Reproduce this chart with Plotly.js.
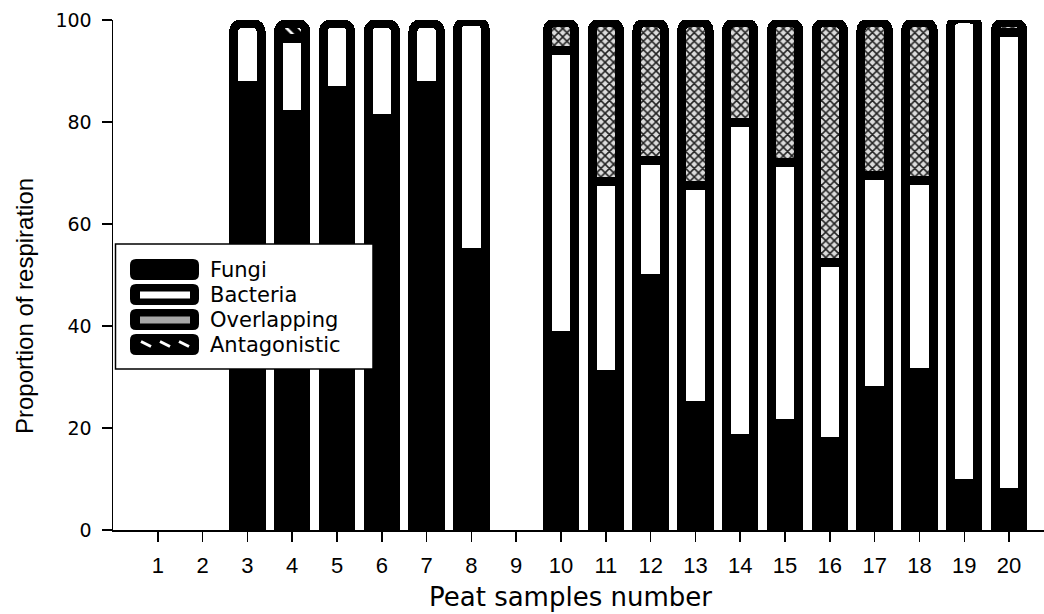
<!DOCTYPE html>
<html><head><meta charset="utf-8">
<script src="https://cdn.plot.ly/plotly-3.0.1.min.js"></script>
<style>html,body{margin:0;padding:0;background:#fff}#chart{width:1044px;height:614px}</style>
</head><body><div id="chart"></div>
<script>
const samples = [1,2,3,4,5,6,7,8,9,10,11,12,13,14,15,16,17,18,19,20];
const tickLabels = samples.map(String);
const fungi        = [null,null,87.2,81.4,86.2,80.7,87.2,54.4,null,38.1,30.5,49.4,24.5,17.9,20.8,17.3,27.4,30.8,9.2,7.3];
const bacteria     = [null,null,12.1,15.0,13.1,18.6,12.1,45.4,null,55.9,37.8,23.0,43.0,62.0,51.2,35.1,42.1,37.8,91.0,90.3];
const overlapping  = [null,null,null,null,null,null,null,null,null,5.5,31.2,27.1,32.0,19.6,27.5,47.1,30.0,30.9,null,1.9];
const antagonistic = [null,null,null,2.9,null,null,null,null,null,null,null,null,null,null,null,null,null,null,null,null];
const seriesNames = ['Fungi','Bacteria','Overlapping','Antagonistic'];
const yTicks = [0,20,40,60,80,100];
const xTitle = 'Peat samples number';
const yTitle = 'Proportion of respiration';

const LW = 9, CR = 8;
const base = {type:'bar', x:samples, cliponaxis:false, hoverinfo:'skip'};
const traces = [
  Object.assign({}, base, {name:seriesNames[0], y:fungi,
    marker:{color:'#000', line:{color:'#000', width:LW}, cornerradius:CR}}),
  Object.assign({}, base, {name:seriesNames[1], y:bacteria,
    marker:{color:'#fff', line:{color:'#000', width:LW}, cornerradius:CR}}),
  Object.assign({}, base, {name:seriesNames[2], y:overlapping,
    marker:{color:'#ccc', line:{color:'#000', width:LW}, cornerradius:CR,
      pattern:{shape:'x', fgcolor:'#222', bgcolor:'#dcdcdc', size:6, solidity:0.45}}}),
  Object.assign({}, base, {name:seriesNames[3], y:antagonistic,
    marker:{color:'#000', line:{color:'#000', width:LW}, cornerradius:CR,
      pattern:{shape:'\\', fgcolor:'#fff', bgcolor:'#000', size:9, solidity:0.3}}})
];

// pixel -> paper helpers for the hand-drawn legend and titles
const L = 113, B = 530, PW = 931, PH = 510;
const px = v => (v - L) / PW, py = v => (B - v) / PH;
function roundRect(x0,y0,x1,y1,r){
  const P = (x,y)=> px(x)+','+py(y);
  return 'M'+P(x0+r,y0)+' L'+P(x1-r,y0)+' Q'+P(x1,y0)+' '+P(x1,y0+r)+
    ' L'+P(x1,y1-r)+' Q'+P(x1,y1)+' '+P(x1-r,y1)+' L'+P(x0+r,y1)+
    ' Q'+P(x0,y1)+' '+P(x0,y1-r)+' L'+P(x0,y0+r)+' Q'+P(x0,y0)+' '+P(x0+r,y0)+' Z';
}
const shapes = [];
shapes.push({type:'rect', xref:'paper', yref:'paper', x0:px(115.5), x1:px(373), y0:py(244), y1:py(369),
  fillcolor:'#fff', line:{color:'#000', width:1.5}, layer:'above'});
const rowY = [259, 284, 309, 334];
rowY.forEach((t,i)=>{
  shapes.push({type:'path', xref:'paper', yref:'paper', path:roundRect(130,t,199,t+21,6),
    fillcolor:'#000', line:{color:'#000', width:0}, layer:'above'});
});
shapes.push({type:'rect', xref:'paper', yref:'paper', x0:px(140), x1:px(190), y0:py(291.5), y1:py(298.5),
  fillcolor:'#fff', line:{width:0}, layer:'above'});
shapes.push({type:'rect', xref:'paper', yref:'paper', x0:px(140), x1:px(190), y0:py(316.5), y1:py(323.5),
  fillcolor:'#a8a8a8', line:{width:0}, layer:'above'});
[[141,151],[160,170],[179,189]].forEach(d=>{
  shapes.push({type:'line', xref:'paper', yref:'paper', x0:px(d[0]), x1:px(d[1]), y0:py(341.5), y1:py(346.5),
    line:{color:'#fff', width:3}, layer:'above'});
});
const annotations = seriesNames.map((n,i)=>({
  text:n, xref:'paper', yref:'paper', x:px(208), y:py(rowY[i]+11), xanchor:'left', yanchor:'middle',
  showarrow:false, font:{family:'DejaVu Sans, Arial, sans-serif', size:21, color:'#000'}
}));
annotations.push({text:xTitle, xref:'paper', yref:'paper', x:px(570), y:py(597), xanchor:'center', yanchor:'middle',
  showarrow:false, font:{family:'DejaVu Sans, Arial, sans-serif', size:26, color:'#000'}});
annotations.push({text:yTitle, xref:'paper', yref:'paper', x:px(24), y:py(306), xanchor:'center', yanchor:'middle',
  textangle:-90, showarrow:false, font:{family:'Liberation Sans, Arial, sans-serif', size:24, color:'#000'}});

const layout = {
  width:1044, height:614,
  margin:{l:L, r:0, t:20, b:84},
  barmode:'stack', bargap:0.39,
  showlegend:false,
  paper_bgcolor:'#fff', plot_bgcolor:'#fff',
  xaxis:{range:[0,20.78], tickvals:samples, ticktext:tickLabels, ticks:'outside', ticklen:10, tickwidth:1.5,
    tickcolor:'#000', showline:true, linecolor:'#000', linewidth:1.5, showgrid:false, zeroline:false,
    ticklabelstandoff:5,
    tickfont:{family:'Liberation Sans, Arial, sans-serif', size:22, color:'#000'}},
  yaxis:{range:[0,100], tickvals:yTicks, ticks:'outside', ticklen:10, tickwidth:1.5, tickcolor:'#000',
    showline:true, linecolor:'#000', linewidth:1.5, showgrid:false, zeroline:false,
    ticklabelstandoff:6,
    tickfont:{family:'DejaVu Sans, Arial, sans-serif', size:19, color:'#000'}},
  shapes:shapes, annotations:annotations
};
Plotly.newPlot('chart', traces, layout, {displayModeBar:false, staticPlot:true});
</script></body></html>
